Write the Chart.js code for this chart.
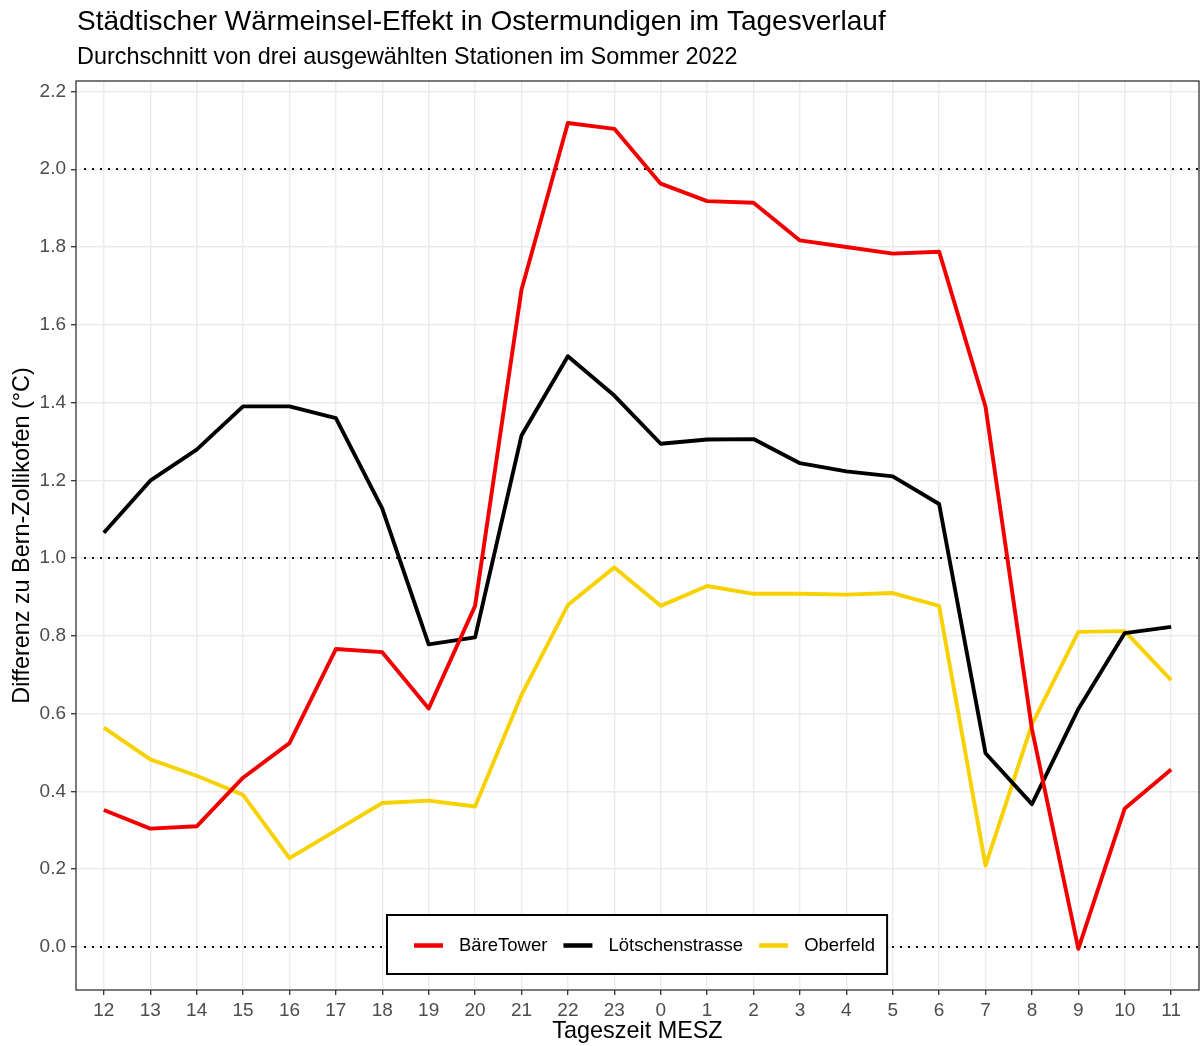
<!DOCTYPE html>
<html lang="de">
<head>
<meta charset="utf-8">
<title>Wärmeinsel-Effekt Ostermundigen</title>
<script src="https://cdn.jsdelivr.net/npm/chart.js@4.4.0/dist/chart.umd.min.js"></script>
<style>
  html, body { margin: 0; padding: 0; background: #fff; }
  canvas { display: block; }
</style>
</head>
<body>
<canvas id="chart" width="1201" height="1046"></canvas>
<script>
// hours of the day (MESZ), starting at noon
const hours = ['12', '13', '14', '15', '16', '17', '18', '19', '20', '21', '22', '23',
  '0', '1', '2', '3', '4', '5', '6', '7', '8', '9', '10', '11'];

const bareTower = [0.352, 0.304, 0.310, 0.435, 0.524, 0.766, 0.758, 0.613, 0.877, 1.690, 2.119, 2.104,
  1.963, 1.918, 1.914, 1.817, 1.800, 1.783, 1.788, 1.389, 0.560, -0.005, 0.356, 0.456];
const loetschenstrasse = [1.065, 1.199, 1.279, 1.390, 1.390, 1.360, 1.127, 0.778, 0.796, 1.315, 1.519, 1.418,
  1.294, 1.305, 1.306, 1.244, 1.223, 1.210, 1.139, 0.498, 0.367, 0.612, 0.807, 0.823];
const oberfeld = [0.564, 0.482, 0.440, 0.391, 0.228, 0.299, 0.370, 0.376, 0.361, 0.648, 0.879, 0.976,
  0.877, 0.928, 0.908, 0.908, 0.906, 0.910, 0.877, 0.209, 0.572, 0.810, 0.812, 0.686];

const yTicks = [0, 0.2, 0.4, 0.6, 0.8, 1.0, 1.2, 1.4, 1.6, 1.8, 2.0, 2.2];
const refLines = [0, 1, 2];

const titleText = 'Städtischer Wärmeinsel-Effekt in Ostermundigen im Tagesverlauf';
const subtitleText = 'Durchschnitt von drei ausgewählten Stationen im Sommer 2022';

const FONT = "'Liberation Sans', Arial, sans-serif";

function toPoints(values) {
  return values.map((v, i) => ({ x: i, y: v }));
}

function lineSet(label, values, color) {
  return {
    label: label,
    data: toPoints(values),
    borderColor: color,
    backgroundColor: color,
    borderWidth: 3.9,
    borderJoinStyle: 'round',
    pointRadius: 0,
    pointHoverRadius: 0,
    tension: 0,
    fill: false,
  };
}

// dotted reference lines at 0, 1 and 2 degrees
const refLinePlugin = {
  id: 'refLines',
  beforeDatasetsDraw(chart) {
    const { ctx, chartArea: a, scales: { y } } = chart;
    ctx.save();
    ctx.beginPath();
    ctx.rect(a.left, a.top, a.width, a.height);
    ctx.clip();
    ctx.strokeStyle = '#111';
    ctx.lineWidth = 2;
    ctx.setLineDash([2, 6]);
    refLines.forEach((v) => {
      const py = Math.round(y.getPixelForValue(v));
      ctx.beginPath();
      ctx.moveTo(a.left + 8, py);
      ctx.lineTo(a.right, py);
      ctx.stroke();
    });
    ctx.restore();
  },
};

// panel border, titles and the boxed legend inside the panel
const decoPlugin = {
  id: 'deco',
  afterDraw(chart) {
    const { ctx, chartArea: a } = chart;
    ctx.save();

    ctx.strokeStyle = '#333';
    ctx.lineWidth = 1.3;
    ctx.strokeRect(a.left, a.top, a.width, a.height);

    ctx.fillStyle = '#000';
    ctx.textAlign = 'left';
    ctx.textBaseline = 'alphabetic';
    ctx.font = '28px ' + FONT;
    ctx.fillText(titleText, a.left + 1, 30);
    ctx.font = '23.4px ' + FONT;
    ctx.fillText(subtitleText, a.left + 1, 64);

    // legend
    ctx.font = '18.5px ' + FONT;
    const items = chart.data.datasets.map((d) => ({ label: d.label, color: d.borderColor }));
    const padL = 27, padR = 12, sw = 29, gapText = 16, gapItem = 16;
    let total = padL + padR;
    items.forEach((it, i) => {
      it.w = ctx.measureText(it.label).width;
      total += sw + gapText + it.w + (i < items.length - 1 ? gapItem : 0);
    });
    const boxH = 59;
    const boxL = Math.round((a.left + a.right) / 2 - total / 2);
    const boxT = Math.round(a.bottom - 16 - boxH);
    ctx.fillStyle = '#fff';
    ctx.fillRect(boxL, boxT, total, boxH);
    ctx.strokeStyle = '#000';
    ctx.lineWidth = 2;
    ctx.strokeRect(boxL, boxT, total, boxH);
    const cy = boxT + boxH / 2 + 1;
    let cx = boxL + padL;
    items.forEach((it) => {
      ctx.strokeStyle = it.color;
      ctx.lineWidth = 4.5;
      ctx.beginPath();
      ctx.moveTo(cx, cy);
      ctx.lineTo(cx + sw, cy);
      ctx.stroke();
      cx += sw + gapText;
      ctx.fillStyle = '#000';
      ctx.textBaseline = 'middle';
      ctx.fillText(it.label, cx, cy);
      cx += it.w + gapItem;
    });

    ctx.restore();
  },
};

const ctx = document.getElementById('chart').getContext('2d');
const chart = new Chart(ctx, {
  type: 'line',
  data: {
    datasets: [
      lineSet('BäreTower', bareTower, '#f20000'),
      lineSet('Lötschenstrasse', loetschenstrasse, '#000000'),
      lineSet('Oberfeld', oberfeld, '#f7d100'),
    ],
  },
  options: {
    responsive: false,
    animation: false,
    devicePixelRatio: 1,
    layout: { padding: { top: 81, right: 2, left: 0, bottom: 0 } },
    plugins: {
      legend: { display: false },
      title: { display: false },
      tooltip: { enabled: false },
    },
    scales: {
      x: {
        type: 'linear',
        min: -0.6,
        max: 23.6,
        afterBuildTicks: (s) => { s.ticks = hours.map((h, i) => ({ value: i })); },
        afterFit: (s) => { s.height = 56; },
        border: { display: false },
        grid: { color: '#ebebeb', lineWidth: 1.4, tickLength: 5, tickColor: '#333', tickWidth: 1.3 },
        ticks: {
          autoSkip: false,
          maxRotation: 0,
          color: '#4d4d4d',
          padding: 4,
          font: { family: FONT, size: 19 },
          callback: (v) => hours[v],
        },
        title: {
          display: true,
          text: 'Tageszeit MESZ',
          color: '#000',
          font: { family: FONT, size: 23.4 },
          padding: { top: 0, bottom: 0 },
        },
      },
      y: {
        type: 'linear',
        min: -0.111,
        max: 2.227,
        afterBuildTicks: (s) => { s.ticks = yTicks.map((v) => ({ value: v })); },
        afterFit: (s) => { s.width = 76; },
        border: { display: false },
        grid: { color: '#ebebeb', lineWidth: 1.4, tickLength: 5, tickColor: '#333', tickWidth: 1.3 },
        ticks: {
          color: '#4d4d4d',
          padding: 5,
          font: { family: FONT, size: 19 },
          callback: (v) => v.toFixed(1),
        },
        title: {
          display: true,
          text: 'Differenz zu Bern-Zollikofen (°C)',
          color: '#000',
          font: { family: FONT, size: 23.4 },
          padding: { top: 9, bottom: 0 },
        },
      },
    },
  },
  plugins: [refLinePlugin, decoPlugin],
});
</script>
</body>
</html>
